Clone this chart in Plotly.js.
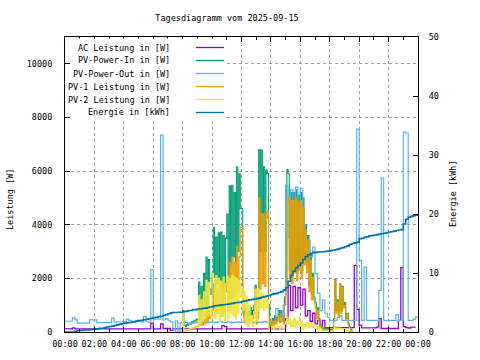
<!DOCTYPE html>
<html>
<head>
<meta charset="utf-8">
<script src="https://cdn.plot.ly/plotly-3.0.1.min.js"></script>
<style>html,body{margin:0;padding:0;background:#fff;}#chart{width:480px;height:360px;}</style>
</head>
<body>
<div id="chart"></div>
<script>
// ---------- data ----------
const chartTitle = 'Tagesdiagramm vom 2025-09-15';
const seriesNames = ['AC Leistung in [W]', 'PV-Power-In in [W]', 'PV-Power-Out in [W]', 'PV-1 Leistung in [W]', 'PV-2 Leistung in [W]', 'Energie in [kWh]'];
const xTickVals = [0, 2, 4, 6, 8, 10, 12, 14, 16, 18, 20, 22, 24];
const xTickText = ['00:00', '02:00', '04:00', '06:00', '08:00', '10:00', '12:00', '14:00', '16:00', '18:00', '20:00', '22:00', '00:00'];
const xMinorVals = [1, 3, 5, 7, 9, 11, 13, 15, 17, 19, 21, 23];
const yTickVals = [0, 2000, 4000, 6000, 8000, 10000];
const yTickText = ['0', '2000', '4000', '6000', '8000', '10000'];
const y2TickVals = [0, 10, 20, 30, 40, 50];
const y2TickText = ['0', '10', '20', '30', '40', '50'];

// sample times (hours): whole day every 10 min, daytime PV every 5 min (07:30-19:30)
const timeFull = Array.from({length: 145}, (_, i) => i / 6);
const timeDay = Array.from({length: 145}, (_, k) => 7.5 + k / 12);

const acLeistung = [
  120,120,120,157,120,120,120,120,120,120,120,120,120,120,120,120,120,120,120,120,
  120,120,120,120,120,120,120,120,120,120,120,120,120,120,120,330,120,120,120,300,
  130,130,130,60,120,120,120,120,120,120,120,120,120,120,120,120,120,120,120,120,
  120,120,120,120,240,200,120,120,120,120,120,120,120,120,120,120,120,120,120,120,
  120,120,120,120,120,120,120,120,120,120,500,1740,800,1700,900,1650,1000,1600,600,800,
  400,700,300,430,200,430,150,160,160,160,160,160,160,160,160,160,160,160,2484,840,
  250,157,157,157,157,157,157,180,500,130,130,130,130,130,130,130,430,2400,200,160,
  150,180,180,180
];
const pvPowerOut = [
  400,400,400,530,450,330,330,330,330,330,455,455,455,355,355,355,355,355,355,517,
  380,380,380,380,380,478,430,400,380,430,400,380,579,400,355,2330,480,480,480,7340,
  450,500,420,380,50,420,30,350,400,350,300,330,330,350,370,360,380,370,350,370,
  380,360,370,390,370,360,380,370,350,370,380,360,370,360,380,370,350,370,380,360,
  370,390,370,360,380,370,870,690,400,1000,5470,3500,5300,3200,5400,3500,5360,4000,2930,3420,
  2800,3170,2175,1440,800,1200,700,550,430,430,430,550,600,430,430,430,430,430,430,7565,
  2670,430,2420,430,430,430,430,430,1550,5735,430,430,430,430,430,650,430,430,7450,7420,
  430,430,480,553,553
];
const energie = [
  0,0,0,0,0.1,0.25,0.25,0.3,0.35,0.35,0.4,0.47,0.47,0.55,0.64,0.64,0.75,0.85,0.93,1.0,
  1.1,1.2,1.3,1.4,1.5,1.55,1.6,1.66,1.75,1.85,1.95,2.0,2.1,2.17,2.25,2.34,2.45,2.5,2.6,2.68,
  2.8,2.95,3.1,3.25,3.3,3.3,3.35,3.36,3.45,3.5,3.6,3.65,3.8,3.8,3.9,3.95,4.0,4.05,4.15,4.25,
  4.35,4.45,4.5,4.55,4.6,4.65,4.7,4.78,4.85,4.95,5.0,5.05,5.17,5.25,5.35,5.45,5.5,5.6,5.65,5.75,
  5.9,6.0,6.1,6.19,6.35,6.47,6.55,6.7,6.85,7.1,7.5,8.6,9.6,10.3,10.9,11.3,11.7,12.3,12.8,13.1,
  13.3,13.45,13.5,13.55,13.6,13.6,13.65,13.7,13.8,13.85,13.95,14.05,14.2,14.3,14.45,14.6,14.85,15.0,15.1,15.2,
  15.8,15.9,16.07,16.15,16.3,16.36,16.45,16.5,16.6,16.65,16.75,16.85,16.95,17.0,17.1,17.2,17.3,17.35,18.3,19.1,
  19.45,19.6,19.7,19.8,19.86
];
const pvPowerIn = [
  0,0,0,0,0,0,
  800,250,200,280,250,320,300,380,350,420,400,480,
  450,1860,600,1700,700,2185,900,2795,1000,2700,1600,1400,
  2200,3900,1500,3540,1800,3700,1600,3730,1400,3600,1500,3500,
  4400,1800,5450,2500,5470,2800,5200,2600,6160,3000,5900,4600,
  4600,1000,600,900,500,800,600,900,500,800,1000,1740,
  550,900,6800,3000,6780,3500,6160,3000,6040,5900,1020,200,
  300,500,350,600,400,550,800,500,800,600,400,1300,
  1800,6060,5900,2300,5200,2100,5200,2500,5300,2200,5100,2600,
  5200,2300,5000,2800,4000,2500,3600,1700,2900,1400,2190,1300,
  1100,700,900,500,300,200,150,100,150,100,150,100,
  80,100,80,500,1960,800,1200,600,1800,800,1700,1000,
  1100,500,700,300,200,100,0
];
const pv1Leistung = [
  0,0,0,0,0,0,
  150,50,40,70,60,90,100,120,150,150,180,200,
  220,500,250,500,250,700,300,900,400,900,500,600,
  800,1800,600,1500,700,1600,800,1800,600,1700,700,1800,
  1500,800,2600,1200,2800,1300,2600,1400,3200,1500,2800,3915,
  3900,700,400,600,350,550,400,600,350,500,700,1000,
  300,500,5000,1600,4400,1800,4430,1700,4230,4520,600,100,
  200,400,250,450,300,400,600,350,650,400,300,1000,
  1400,4850,5040,2000,4900,1800,4900,2200,5000,1900,4850,2300,
  4900,2000,4660,2500,3800,2200,3420,1500,2670,1200,2050,1180,
  900,500,800,400,200,150,100,50,100,80,100,50,
  50,60,50,400,1925,700,1100,550,1800,700,1670,900,
  1000,450,650,250,150,50,0
];
const pv2Leistung = [
  0,0,0,0,0,0,
  740,80,60,70,90,100,120,140,150,170,190,220,
  250,1364,300,1200,400,1500,500,1924,600,1850,700,500,
  2185,2000,500,2100,700,2000,400,1900,600,2050,400,1800,
  2100,500,2000,700,2110,600,2050,500,2000,700,1900,1300,
  1670,800,1500,300,1300,200,1000,300,600,200,300,1600,
  400,1610,800,1500,900,1440,800,1300,900,1200,100,0,
  150,200,100,250,150,200,200,100,250,150,100,300,
  400,550,300,500,200,450,200,500,150,400,300,550,
  200,400,100,300,200,350,150,300,200,350,150,250,
  100,200,100,150,100,50,50,30,50,30,50,30,
  20,30,20,100,200,100,150,100,150,100,120,80,
  100,50,50,30,20,0,0
];

// ---------- styles ----------
const colors = ['#9400D3', '#009E73', '#56B4E9', '#E69F00', '#F0E442', '#0072B2'];
const FONT = 'DejaVu Sans Mono, monospace';

// plot area in pixels
const PL = 65, PR = 418, PT = 37, PB = 332;
const px2x = p => (p - PL) / (PR - PL);
const px2y = p => (PB - p) / (PB - PT);

const traces = [
  {x: timeFull, y: acLeistung, name: seriesNames[0], yaxis: 'y', color: colors[0], w: 1.3},
  {x: timeDay, y: pvPowerIn, name: seriesNames[1], yaxis: 'y', color: colors[1], w: 1.1},
  {x: timeFull, y: pvPowerOut, name: seriesNames[2], yaxis: 'y', color: colors[2], w: 1.2},
  {x: timeDay, y: pv1Leistung, name: seriesNames[3], yaxis: 'y', color: colors[3], w: 1.1},
  {x: timeDay, y: pv2Leistung, name: seriesNames[4], yaxis: 'y', color: colors[4], w: 1.1},
  {x: timeFull, y: energie, name: seriesNames[5], yaxis: 'y2', color: colors[5], w: 1.6}
].map(s => ({
  type: 'scatter', mode: 'lines', x: s.x, y: s.y, name: s.name, yaxis: s.yaxis,
  line: {color: s.color, width: s.w, shape: 'hv'}, hoverinfo: 'skip'
}));

// legend (gnuplot style: right aligned text, sample to the right)
const shapes = [{
  type: 'rect', xref: 'paper', yref: 'paper', layer: 'above',
  x0: px2x(70), x1: px2x(226), y0: px2y(118), y1: px2y(38.5),
  fillcolor: '#ffffff', line: {width: 0}
}];
const annotations = [];
seriesNames.forEach((n, j) => {
  const yy = 47.5 + 13 * j;
  annotations.push({
    xref: 'paper', yref: 'paper', x: px2x(172), y: px2y(yy), xanchor: 'right', yanchor: 'middle',
    text: n, showarrow: false, font: {family: FONT, size: 8.5, color: '#000'}
  });
  shapes.push({
    type: 'line', xref: 'paper', yref: 'paper', layer: 'above',
    x0: px2x(196), x1: px2x(224), y0: px2y(yy), y1: px2y(yy),
    line: {color: colors[j], width: 1.3}
  });
});
annotations.push({
  xref: 'paper', yref: 'paper', x: px2x(10), y: px2y(200), xanchor: 'center', yanchor: 'middle',
  textangle: -90, text: 'Leistung [W]', showarrow: false, font: {family: FONT, size: 8.5, color: '#000'}
});
annotations.push({
  xref: 'paper', yref: 'paper', x: px2x(453), y: px2y(194), xanchor: 'center', yanchor: 'middle',
  textangle: -90, text: 'Energie [kWh]', showarrow: false, font: {family: FONT, size: 8.5, color: '#000'}
});

const gridCol = '#a0a0a0';
const layout = {
  width: 480, height: 360,
  margin: {l: PL, r: 480 - PR, t: PT, b: 360 - PB, pad: 0},
  paper_bgcolor: '#ffffff', plot_bgcolor: '#ffffff',
  showlegend: false,
  font: {family: FONT, size: 8.5, color: '#000'},
  title: {text: chartTitle, x: 227 / 480, xref: 'container', y: 1 - 18 / 360, yref: 'container',
          xanchor: 'center', yanchor: 'middle', font: {family: FONT, size: 8.5, color: '#000'}},
  xaxis: {
    range: [0, 24], tickmode: 'array', tickvals: xTickVals, ticktext: xTickText,
    ticks: 'inside', ticklen: 5, tickcolor: '#000', tickwidth: 1,
    showline: true, linecolor: '#000', linewidth: 1, mirror: 'ticks',
    showgrid: true, gridcolor: gridCol, griddash: '3px,3px', gridwidth: 1, zeroline: false,
    ticklabelstandoff: 4, tickfont: {family: FONT, size: 8.5, color: '#000'},
    minor: {tickmode: 'array', tickvals: xMinorVals, ticks: 'inside', ticklen: 3, tickcolor: '#000', showgrid: false}
  },
  yaxis: {
    range: [0, 11000], tickmode: 'array', tickvals: yTickVals, ticktext: yTickText,
    ticks: 'inside', ticklen: 5, tickcolor: '#000', tickwidth: 1,
    showline: true, linecolor: '#000', linewidth: 1, mirror: true,
    showgrid: true, gridcolor: gridCol, griddash: '3px,3px', gridwidth: 1, zeroline: false,
    ticklabelstandoff: 10, tickfont: {family: FONT, size: 8.5, color: '#000'}
  },
  yaxis2: {
    overlaying: 'y', side: 'right', range: [0, 50], tickmode: 'array', tickvals: y2TickVals, ticktext: y2TickText,
    ticks: 'inside', ticklen: 5, tickcolor: '#000', tickwidth: 1,
    showline: true, linecolor: '#000', linewidth: 1,
    showgrid: false, zeroline: false,
    ticklabelstandoff: 8, tickfont: {family: FONT, size: 8.5, color: '#000'}
  },
  shapes: shapes,
  annotations: annotations
};

Plotly.newPlot('chart', traces, layout, {staticPlot: true, displayModeBar: false});
</script>
</body>
</html>
